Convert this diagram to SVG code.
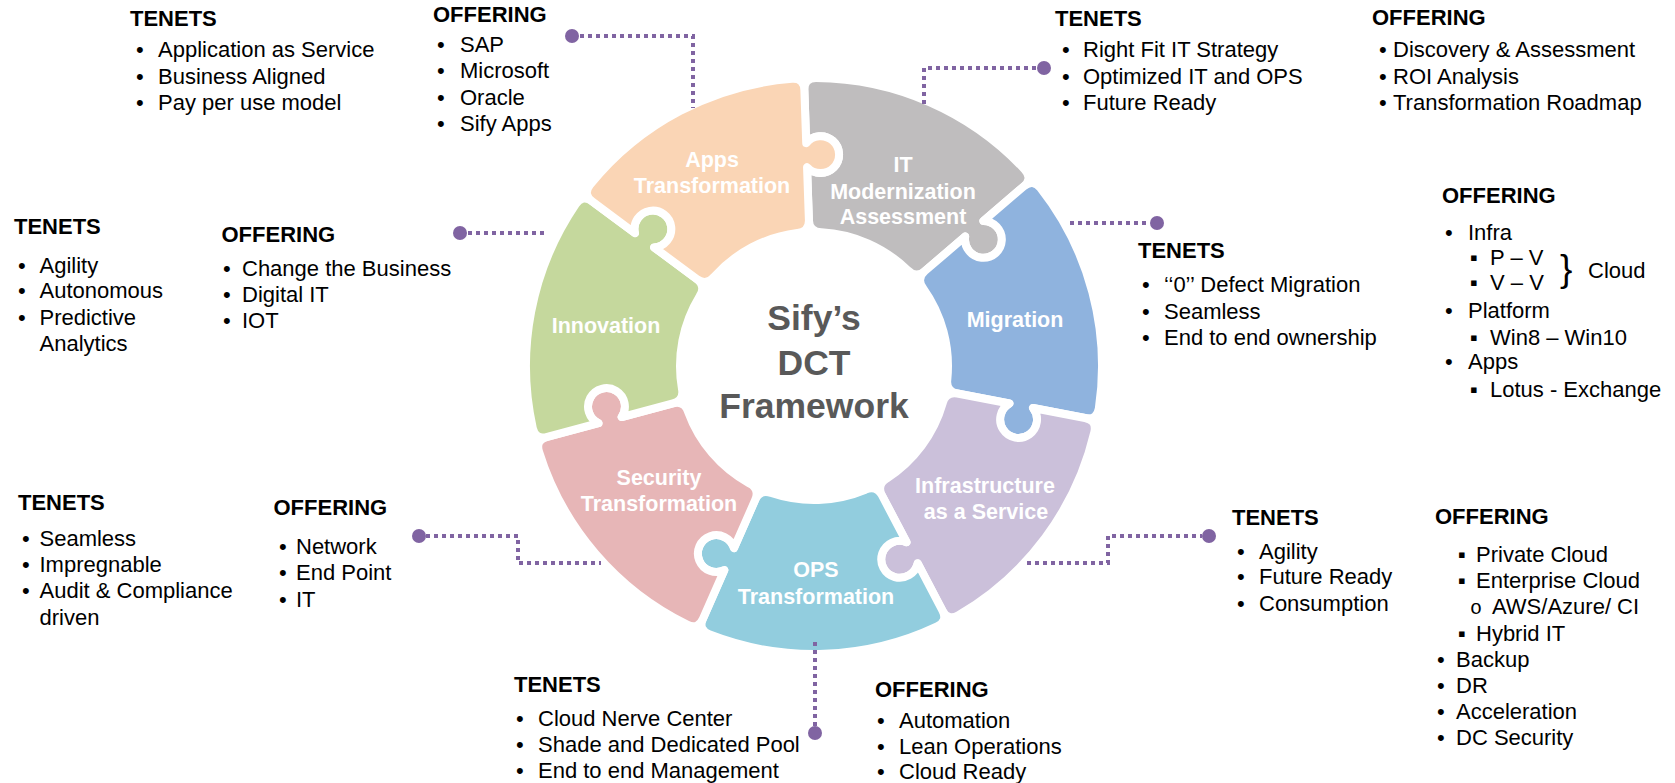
<svg xmlns="http://www.w3.org/2000/svg" xmlns:xlink="http://www.w3.org/1999/xlink" width="1675" height="783" viewBox="0 0 1675 783">
<style>
text{font-family:"Liberation Sans",Arial,sans-serif;}
.t{font-size:22px;fill:#000;}
.h{font-size:22px;font-weight:bold;fill:#000;}
.m{font-family:"Liberation Mono","Courier New",monospace;font-size:20px;}
.lbl{font-size:21.5px;font-weight:bold;fill:#fff;text-anchor:middle;}
.ctr{font-size:35.5px;font-weight:bold;fill:#595959;text-anchor:middle;}
.pc{stroke:#fff;stroke-width:8;stroke-linejoin:round;}
.conn{fill:none;stroke:#8064A2;stroke-width:4;stroke-dasharray:4 4;}
.dot{fill:#8064A2;}
</style>
<defs>
<path id="piece" d="M0,-276 Q0,-288 12,-287.75 A288,288 0 0 1 217.49,-188.79 Q225.17,-179.57 215.79,-172.08 L174.35,-139.04 A18.44,18.44 0 1 1 155.58,-124.07 L114.15,-91.03 Q104.77,-83.55 96.88,-92.58 A134,134 0 0 0 11.98,-133.46 Q0,-134 0,-146 L0,-199 A18.44,18.44 0 1 0 0,-223 Z"/>
</defs>
<rect width="1675" height="783" fill="#fff"/>

<g id="ring">
<g id="it-modernization">
<use xlink:href="#piece" href="#piece" class="pc" fill="#BFBDBE" transform="translate(814 366) rotate(-2)"/>
<text class="lbl" x="903" y="172">IT</text>
<text class="lbl" x="903" y="198.5">Modernization</text>
<text class="lbl" x="903" y="224">Assessment</text>
</g>
<g id="migration">
<use xlink:href="#piece" href="#piece" class="pc" fill="#8FB3DE" transform="translate(814 366) rotate(49.43)"/>
<text class="lbl" x="1015" y="327">Migration</text>
</g>
<g id="iaas">
<use xlink:href="#piece" href="#piece" class="pc" fill="#CBC0DA" transform="translate(814 366) rotate(100.86)"/>
<text class="lbl" x="985" y="493">Infrastructure</text>
<text class="lbl" x="986" y="519">as a Service</text>
</g>
<g id="ops">
<use xlink:href="#piece" href="#piece" class="pc" fill="#92CDDE" transform="translate(814 366) rotate(152.29)"/>
<text class="lbl" x="816" y="577">OPS</text>
<text class="lbl" x="816" y="604">Transformation</text>
</g>
<g id="security">
<use xlink:href="#piece" href="#piece" class="pc" fill="#E7B6B7" transform="translate(814 366) rotate(203.71)"/>
<text class="lbl" x="659" y="485">Security</text>
<text class="lbl" x="659" y="511">Transformation</text>
</g>
<g id="innovation">
<use xlink:href="#piece" href="#piece" class="pc" fill="#C5D89D" transform="translate(814 366) rotate(255.14)"/>
<text class="lbl" x="606" y="333">Innovation</text>
</g>
<g id="apps">
<use xlink:href="#piece" href="#piece" class="pc" fill="#FAD5B5" transform="translate(814 366) rotate(306.57)"/>
<text class="lbl" x="712" y="167">Apps</text>
<text class="lbl" x="712" y="193">Transformation</text>
</g>
</g>

<g id="center">
<text class="ctr" x="814" y="330">Sify’s</text>
<text class="ctr" x="814" y="375">DCT</text>
<text class="ctr" x="814" y="418">Framework</text>
</g>

<g id="connectors">
<polyline class="conn" points="580,36 693,36 693,108"/>
<circle class="dot" cx="572" cy="36" r="7"/>
<polyline class="conn" points="1036,68 924,68 924,104"/>
<circle class="dot" cx="1044" cy="68" r="7"/>
<polyline class="conn" points="1070,223 1150,223"/>
<circle class="dot" cx="1157" cy="223" r="7"/>
<polyline class="conn" points="468,233 548,233"/>
<circle class="dot" cx="460" cy="233" r="7"/>
<polyline class="conn" points="426,536 518,536 518,563 601,563"/>
<circle class="dot" cx="419" cy="536" r="7"/>
<polyline class="conn" points="1027,563 1108,563 1108,536 1202,536"/>
<circle class="dot" cx="1209" cy="536" r="7"/>
<polyline class="conn" points="815,642 815,726"/>
<circle class="dot" cx="815" cy="733" r="7"/>
</g>

<g id="apps-tenets">
<text class="h" x="130" y="26">TENETS</text>
<text class="t" y="57"><tspan x="136">•</tspan><tspan x="158">Application as Service</tspan></text>
<text class="t" y="83.5"><tspan x="136">•</tspan><tspan x="158">Business Aligned</tspan></text>
<text class="t" y="110"><tspan x="136">•</tspan><tspan x="158">Pay per use model</tspan></text>
</g>
<g id="apps-offering">
<text class="h" x="433" y="22">OFFERING</text>
<text class="t" y="51.5"><tspan x="437">•</tspan><tspan x="460">SAP</tspan></text>
<text class="t" y="78"><tspan x="437">•</tspan><tspan x="460">Microsoft</tspan></text>
<text class="t" y="104.5"><tspan x="437">•</tspan><tspan x="460">Oracle</tspan></text>
<text class="t" y="131"><tspan x="437">•</tspan><tspan x="460">Sify Apps</tspan></text>
</g>

<g id="it-tenets">
<text class="h" x="1055" y="26">TENETS</text>
<text class="t" y="57"><tspan x="1062">•</tspan><tspan x="1083">Right Fit IT Strategy</tspan></text>
<text class="t" y="84"><tspan x="1062">•</tspan><tspan x="1083">Optimized IT and OPS</tspan></text>
<text class="t" y="110"><tspan x="1062">•</tspan><tspan x="1083">Future Ready</tspan></text>
</g>
<g id="it-offering">
<text class="h" x="1372" y="25">OFFERING</text>
<text class="t" y="57"><tspan x="1379">•</tspan><tspan x="1393">Discovery &amp; Assessment</tspan></text>
<text class="t" y="84"><tspan x="1379">•</tspan><tspan x="1393">ROI Analysis</tspan></text>
<text class="t" y="110"><tspan x="1379">•</tspan><tspan x="1393">Transformation Roadmap</tspan></text>
</g>

<g id="migration-tenets">
<text class="h" x="1138" y="258">TENETS</text>
<text class="t" y="292"><tspan x="1142">•</tspan><tspan x="1164">‘‘0’’ Defect Migration</tspan></text>
<text class="t" y="318.5"><tspan x="1142">•</tspan><tspan x="1164">Seamless</tspan></text>
<text class="t" y="345"><tspan x="1142">•</tspan><tspan x="1164">End to end ownership</tspan></text>
</g>
<g id="migration-offering">
<text class="h" x="1442" y="203">OFFERING</text>
<text class="t" y="240"><tspan x="1445">•</tspan><tspan x="1468">Infra</tspan></text>
<text class="t" y="265"><tspan x="1470">▪</tspan><tspan x="1490">P – V</tspan></text>
<text class="t" y="290"><tspan x="1470">▪</tspan><tspan x="1490">V – V</tspan></text>
<text class="t" x="1560" y="281" style="font-size:37px">}</text>
<text class="t" x="1588" y="278">Cloud</text>
<text class="t" y="318"><tspan x="1445">•</tspan><tspan x="1468">Platform</tspan></text>
<text class="t" y="345"><tspan x="1470">▪</tspan><tspan x="1490">Win8 – Win10</tspan></text>
<text class="t" y="369"><tspan x="1445">•</tspan><tspan x="1468">Apps</tspan></text>
<text class="t" y="397"><tspan x="1470">▪</tspan><tspan x="1490">Lotus - Exchange</tspan></text>
</g>

<g id="innovation-tenets">
<text class="h" x="14" y="234">TENETS</text>
<text class="t" y="272.5"><tspan x="18">•</tspan><tspan x="39.5">Agility</tspan></text>
<text class="t" y="298"><tspan x="18">•</tspan><tspan x="39.5">Autonomous</tspan></text>
<text class="t" y="325"><tspan x="18">•</tspan><tspan x="39.5">Predictive</tspan></text>
<text class="t" x="39.5" y="351">Analytics</text>
</g>
<g id="innovation-offering">
<text class="h" x="221.5" y="241.5">OFFERING</text>
<text class="t" y="276"><tspan x="223">•</tspan><tspan x="242">Change the Business</tspan></text>
<text class="t" y="302"><tspan x="223">•</tspan><tspan x="242">Digital IT</tspan></text>
<text class="t" y="328"><tspan x="223">•</tspan><tspan x="242">IOT</tspan></text>
</g>

<g id="security-tenets">
<text class="h" x="18" y="510">TENETS</text>
<text class="t" y="545.5"><tspan x="22">•</tspan><tspan x="39.5">Seamless</tspan></text>
<text class="t" y="572"><tspan x="22">•</tspan><tspan x="39.5">Impregnable</tspan></text>
<text class="t" y="598"><tspan x="22">•</tspan><tspan x="39.5">Audit &amp; Compliance</tspan></text>
<text class="t" x="39.5" y="624.5">driven</text>
</g>
<g id="security-offering">
<text class="h" x="273.5" y="515">OFFERING</text>
<text class="t" y="554"><tspan x="279">•</tspan><tspan x="296">Network</tspan></text>
<text class="t" y="580"><tspan x="279">•</tspan><tspan x="296">End Point</tspan></text>
<text class="t" y="607"><tspan x="279">•</tspan><tspan x="296">IT</tspan></text>
</g>

<g id="iaas-tenets">
<text class="h" x="1232" y="525">TENETS</text>
<text class="t" y="558.5"><tspan x="1237">•</tspan><tspan x="1259">Agility</tspan></text>
<text class="t" y="584"><tspan x="1237">•</tspan><tspan x="1259">Future Ready</tspan></text>
<text class="t" y="610.5"><tspan x="1237">•</tspan><tspan x="1259">Consumption</tspan></text>
</g>
<g id="iaas-offering">
<text class="h" x="1435" y="523.5">OFFERING</text>
<text class="t" y="562"><tspan x="1458">▪</tspan><tspan x="1476">Private Cloud</tspan></text>
<text class="t" y="588"><tspan x="1458">▪</tspan><tspan x="1476">Enterprise Cloud</tspan></text>
<text class="t" y="614"><tspan x="1470" class="m">o</tspan><tspan x="1492">AWS/Azure/ CI</tspan></text>
<text class="t" y="641"><tspan x="1458">▪</tspan><tspan x="1476">Hybrid IT</tspan></text>
<text class="t" y="667"><tspan x="1437">•</tspan><tspan x="1456">Backup</tspan></text>
<text class="t" y="693"><tspan x="1437">•</tspan><tspan x="1456">DR</tspan></text>
<text class="t" y="719"><tspan x="1437">•</tspan><tspan x="1456">Acceleration</tspan></text>
<text class="t" y="745"><tspan x="1437">•</tspan><tspan x="1456">DC Security</tspan></text>
</g>

<g id="ops-tenets">
<text class="h" x="514" y="691.5">TENETS</text>
<text class="t" y="726"><tspan x="516">•</tspan><tspan x="538">Cloud Nerve Center</tspan></text>
<text class="t" y="752"><tspan x="516">•</tspan><tspan x="538">Shade and Dedicated Pool</tspan></text>
<text class="t" y="778"><tspan x="516">•</tspan><tspan x="538">End to end Management</tspan></text>
</g>
<g id="ops-offering">
<text class="h" x="875" y="696.5">OFFERING</text>
<text class="t" y="728"><tspan x="877">•</tspan><tspan x="899">Automation</tspan></text>
<text class="t" y="754"><tspan x="877">•</tspan><tspan x="899">Lean Operations</tspan></text>
<text class="t" y="779"><tspan x="877">•</tspan><tspan x="899">Cloud Ready</tspan></text>
</g>
</svg>
